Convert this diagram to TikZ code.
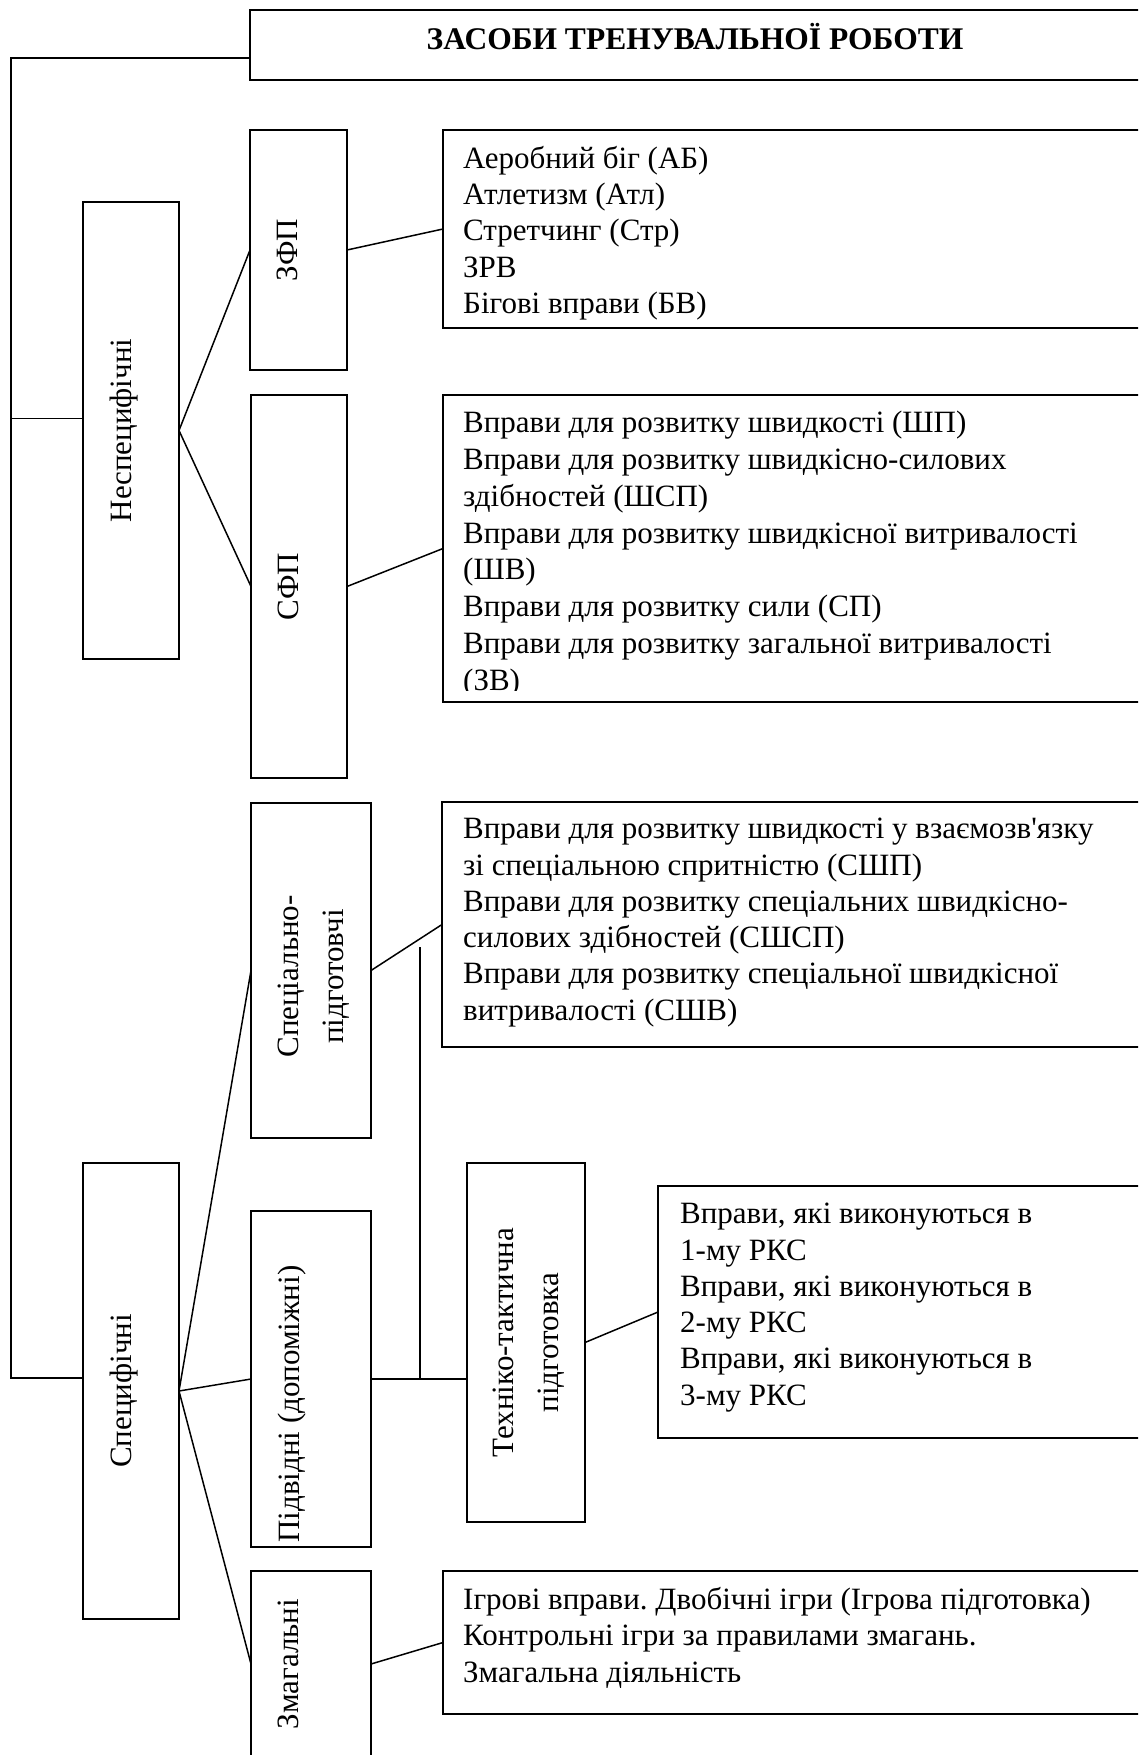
\documentclass[tikz,border=0pt]{standalone}
\usepackage{fontspec}
\setmainfont{Liberation Serif}[Ligatures=TeXOff]
\frenchspacing
\begin{document}
\begin{tikzpicture}[x=1pt, y=-1pt,
        box/.style={draw, line width=2pt, inner sep=0pt, outer sep=0pt, anchor=north west},
        link/.style={line width=1.5pt},
        vlabel/.style={rotate=90, anchor=north, inner sep=0pt, align=center, font=\fontsize{31}{45}\selectfont},
        listtext/.style={anchor=north west, inner sep=0pt, align=left, font=\fontsize{31}{36.3}\selectfont,
                execute at begin node=\rule{0pt}{24pt}}]
        \useasboundingbox (0,0) rectangle (1138,1755);
        \clip (0,0) rectangle (1138,1755);

        % Title
        \node[box, minimum width=890pt, minimum height=70pt] (title) at (250,10) {};
        \node[anchor=base, inner sep=0pt, font=\fontsize{31.5}{36}\selectfont\bfseries] at ([yshift=-5pt]title.center) {ЗАСОБИ ТРЕНУВАЛЬНОЇ РОБОТИ};

        % Non-specific means
        \node[box, minimum width=96pt, minimum height=457pt] (nesp) at (83,202) {};
        \node[vlabel] at ([xshift=27pt]nesp.west) {Неспецифічні};

        \node[box, minimum width=97pt, minimum height=240pt] (zfp) at (250,130) {};
        \node[vlabel] at ([xshift=27pt]zfp.west) {ЗФП};
        \node[box, minimum width=702pt, minimum height=198pt] (zfpl) at (443,130) {};
        \begin{scope}
        \clip (zfpl.north west) rectangle ([yshift=8pt]zfpl.south east);
        \node[listtext] at ([xshift=20pt, yshift=-16pt]zfpl.north west) {Аеробний біг (АБ)\\Атлетизм (Атл)\\Стретчинг (Стр)\\ЗРВ\\Бігові вправи (БВ)};
        \end{scope}

        \node[box, minimum width=96pt, minimum height=383pt] (sfp) at (251,395) {};
        \node[vlabel] at ([xshift=27pt]sfp.west) {СФП};
        \node[box, minimum width=702pt, minimum height=307pt] (sfpl) at (443,395) {};
        \begin{scope}
        \clip (sfpl.north west) rectangle ([yshift=12pt]sfpl.south east);
        \node[listtext, font=\fontsize{31}{36.8}\selectfont] at ([xshift=20pt, yshift=-16pt]sfpl.north west) {Вправи для розвитку швидкості (ШП)\\Вправи для розвитку швидкісно-силових\\здібностей (ШСП)\\Вправи для розвитку швидкісної витривалості\\(ШВ)\\Вправи для розвитку сили (СП)\\Вправи для розвитку загальної витривалості\\(ЗВ)};
        \end{scope}

        % Specific means
        \node[box, minimum width=96pt, minimum height=456pt] (spets) at (83,1163) {};
        \node[vlabel] at ([xshift=27pt]spets.west) {Специфічні};

        \node[box, minimum width=120pt, minimum height=335pt] (specp) at (251,803) {};
        \node[vlabel] at ([xshift=27pt, yshift=-6pt]specp.west) {Спеціально-\\підготовчі};
        \node[box, minimum width=703pt, minimum height=245pt] (specl) at (442,802) {};
        \node[listtext] at ([xshift=21pt, yshift=-16pt]specl.north west) {Вправи для розвитку швидкості у взаємозв'язку\\зі спеціальною спритністю (СШП)\\Вправи для розвитку спеціальних швидкісно-\\силових здібностей (СШСП)\\Вправи для розвитку спеціальної швидкісної\\витривалості (СШВ)};

        \node[box, minimum width=120pt, minimum height=336pt] (pidv) at (251,1211) {};
        \node[vlabel] at ([xshift=27pt, yshift=-25pt]pidv.west) {Підвідні (допоміжні)};

        \node[box, minimum width=118pt, minimum height=359pt] (tt) at (467,1163) {};
        \node[vlabel] at ([xshift=26pt]tt.west) {Техніко-тактична\\підготовка};
        \node[box, minimum width=487pt, minimum height=252pt] (ttl) at (658,1186) {};
        \node[listtext] at ([xshift=22pt, yshift=-17pt]ttl.north west) {Вправи, які виконуються в\\1-му РКС\\Вправи, які виконуються в\\2-му РКС\\Вправи, які виконуються в\\3-му РКС};

        \node[box, minimum width=120pt, minimum height=186pt] (zmah) at (251,1571) {};
        \node[vlabel] at ([xshift=27pt]zmah.west) {Змагальні};
        \node[box, minimum width=702pt, minimum height=143pt] (zmahl) at (443,1571) {};
        \node[listtext] at ([xshift=20pt, yshift=-16pt]zmahl.north west) {Ігрові вправи. Двобічні ігри (Ігрова підготовка)\\Контрольні ігри за правилами змагань.\\Змагальна діяльність};

        % Trunk
        \draw[link] ([yshift=-13pt]title.west) -- ++(-239,0) |- ([yshift=13pt]spets.west);
        \draw[link] ([yshift=12pt]nesp.west) -- ++(-72,0);

        % Branches
        \draw[link] (nesp.east) -- (zfp.west);
        \draw[link] (nesp.east) -- (sfp.west);
        \draw[link] (zfp.east) -- (zfpl.west);
        \draw[link] (sfp.east) -- (sfpl.west);
        \draw[link] (spets.east) -- (specp.west);
        \draw[link] (spets.east) -- (pidv.west);
        \draw[link] (spets.east) -- (zmah.west);
        \draw[link] (specp.east) -- (specl.west);
        \draw[link] (pidv.east) -- (pidv.east -| tt.west);
        \draw[link] (tt.east) -- (ttl.west);
        \draw[link] (zmah.east) -- (zmahl.west);
        \coordinate (vtop) at (420,947);
        \draw[line width=1.2pt] (vtop) -- (vtop |- pidv.east);
    \end{tikzpicture}
\end{document}
